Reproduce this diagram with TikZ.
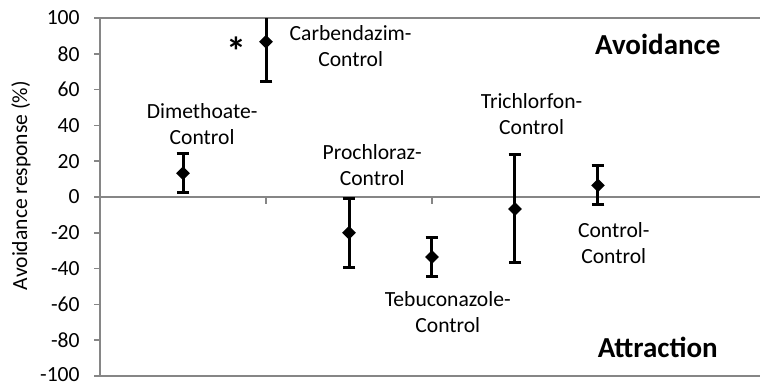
\documentclass[tikz,border=0pt]{standalone}
\usepackage{fontspec}
\setmainfont{Carlito}
\usetikzlibrary{shapes.geometric,arrows.meta}
\definecolor{axisgray}{RGB}{134,134,134}
\begin{document}
\begin{tikzpicture}[x=41.5pt,y=0.895pt]
\tikzstyle{every node}+=[inner sep=0pt, font=\fontsize{10.8}{13}\selectfont]
\tikzstyle{mean}=[diamond, fill=black, minimum size=7pt]
\tikzstyle{errbar}=[line width=1.5pt, {Bar[width=6.4pt,line width=1.5pt]}-{Bar[width=6.4pt,line width=1.5pt]}]
\tikzstyle{errlow}=[line width=1.5pt, -{Bar[width=6.4pt,line width=1.5pt]}]
\tikzstyle{axis}=[axisgray, line width=0.75pt]
\tikzstyle{catlabel}=[align=center]
\tikzstyle{sidelabel}=[font=\fontsize{14.5}{17}\selectfont\bfseries]

\useasboundingbox (-1.205,-105.03) rectangle (7.952,110.06);

% frame and axes
\draw [axis] (0,100) -- (7.952,100);
\draw [axis] (0,-100) -- (7.952,-100);
\draw [axis] (0,-100) -- (0,100);
\draw [axis] (0,0) -- (7.952,0);
\draw [axis] (2,0) -- (2,-3.9);
\draw [axis] (4,0) -- (4,-3.9);
\draw [axis] (6,0) -- (6,-3.9);

% y ticks and numbers
\draw [axis] (-0.072,100) -- (0,100);
\draw [axis] (-0.072,80) -- (0,80);
\draw [axis] (-0.072,60) -- (0,60);
\draw [axis] (-0.072,40) -- (0,40);
\draw [axis] (-0.072,20) -- (0,20);
\draw [axis] (-0.072,0) -- (0,0);
\draw [axis] (-0.072,-20) -- (0,-20);
\draw [axis] (-0.072,-40) -- (0,-40);
\draw [axis] (-0.072,-60) -- (0,-60);
\draw [axis] (-0.072,-80) -- (0,-80);
\draw [axis] (-0.072,-100) -- (0,-100);

\node [anchor=east] (y100) at (-0.241,100) {100};
\node [anchor=east] (y80) at (-0.241,80) {80};
\node [anchor=east] (y60) at (-0.241,60) {60};
\node [anchor=east] (y40) at (-0.241,40) {40};
\node [anchor=east] (y20) at (-0.241,20) {20};
\node [anchor=east] (y0) at (-0.241,0) {0};
\node [anchor=east] (ym20) at (-0.241,-20) {-20};
\node [anchor=east] (ym40) at (-0.241,-40) {-40};
\node [anchor=east] (ym60) at (-0.241,-60) {-60};
\node [anchor=east] (ym80) at (-0.241,-80) {-80};
\node [anchor=east] (ym100) at (-0.241,-99) {-100};

\node [rotate=90] (ytitle) at (-0.952,6.4) {Avoidance response (\%)};

% error bars
\coordinate (dimtop) at (1,25);
\coordinate (dimbot) at (1,1.7);
\coordinate (cartop) at (2,100);
\coordinate (carbot) at (2,63.7);
\coordinate (protop) at (3,0);
\coordinate (probot) at (3,-40.3);
\coordinate (tebtop) at (4,-22);
\coordinate (tebbot) at (4,-45.3);
\coordinate (tritop) at (5,24.4);
\coordinate (tribot) at (5,-37.6);
\coordinate (contop) at (6,18.3);
\coordinate (conbot) at (6,-5);

\draw [errbar] (dimtop) -- (dimbot);
\draw [errlow] (cartop) -- (carbot);
\draw [errbar] (protop) -- (probot);
\draw [errbar] (tebtop) -- (tebbot);
\draw [errbar] (tritop) -- (tribot);
\draw [errbar] (contop) -- (conbot);

% means
\node [mean] (dim) at (1,13.3) {};
\node [mean] (car) at (2,86.7) {};
\node [mean] (pro) at (3,-20) {};
\node [mean] (teb) at (4,-33.5) {};
\node [mean] (tri) at (5,-6.7) {};
\node [mean] (con) at (6,6.5) {};

% labels
\node [catlabel] (dimlabel) at (1.23,40.8) {Dimethoate-\\Control};
\node [catlabel] (carlabel) at (3.02,84.4) {Carbendazim-\\Control};
\node [catlabel] (prolabel) at (3.28,17.6) {Prochloraz-\\Control};
\node [catlabel] (teblabel) at (4.19,-64.5) {Tebuconazole-\\Control};
\node [catlabel] (trilabel) at (5.20,46.4) {Trichlorfon-\\Control};
\node [catlabel] (conlabel) at (6.19,-25.7) {Control-\\Control};

\node [sidelabel, font=\fontsize{20}{24}\selectfont\bfseries, anchor=base] (star) at (1.65,73.3) {*};
\node [sidelabel] (avoid) at (6.72,85.5) {Avoidance};
\node [sidelabel] (attract) at (6.72,-83.8) {Attraction};
\end{tikzpicture}
\end{document}
